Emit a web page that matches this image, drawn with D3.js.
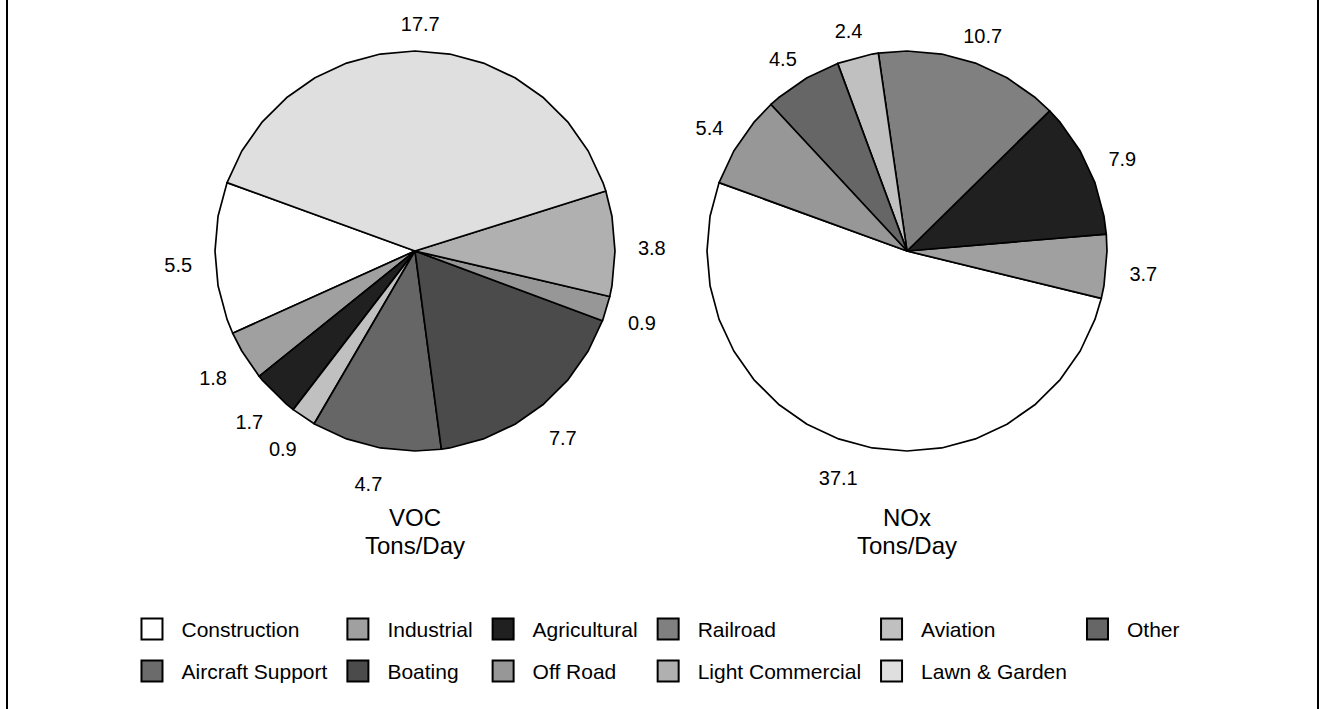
<!DOCTYPE html>
<html>
<head>
<meta charset="utf-8">
<script src="https://cdn.jsdelivr.net/npm/d3@7"></script>
<style>
  html, body { margin: 0; padding: 0; background: #fff; }
  svg { display: block; font-family: "Liberation Sans", Arial, sans-serif; }
</style>
</head>
<body>
<svg id="chart" width="1319" height="709"></svg>
<script>
// Emission source categories, in slice / legend order
const categories = [
  "Construction", "Industrial", "Agricultural", "Railroad", "Aviation", "Other",
  "Aircraft Support", "Boating", "Off Road", "Light Commercial", "Lawn & Garden"
];
// Tons per day for each category
const vocValues = [5.5, 1.8, 1.7, 0, 0.9, 4.7, 0, 7.7, 0.9, 3.8, 17.7];
const noxValues = [37.1, 3.7, 7.9, 10.7, 2.4, 4.5, 0, 0, 5.4, 0, 0];
// Chart titles
const pieTitles = [["VOC", "Tons/Day"], ["NOx", "Tons/Day"]];

// Grey fill for each category
const fillColors = [
  "#ffffff", "#a0a0a0", "#202020", "#808080", "#c0c0c0", "#666666",
  "#6b6b6b", "#4b4b4b", "#979797", "#b0b0b0", "#dfdfdf"
];

const W = 1319, H = 709;
const svg = d3.select("#chart");

// outer frame
svg.append("rect")
  .attr("x", 7).attr("y", -10)
  .attr("width", 1311).attr("height", H + 20)
  .attr("fill", "none").attr("stroke", "#000").attr("stroke-width", 2);

const color = d3.scaleOrdinal().domain(categories).range(fillColors);
const fmt = d3.format(".1f");

const radius = 200;
const startA = -70 * Math.PI / 180;
// slices run counter-clockwise from the start angle
const pie = d3.pie()
  .sort(null)
  .value(d => d.value)
  .startAngle(startA)
  .endAngle(startA - 2 * Math.PI);

// slice outline drawn as a faceted polygon
const step = 10 * Math.PI / 180;
const radial = d3.lineRadial()
  .angle(p => p[0])
  .radius(p => p[1])
  .curve(d3.curveLinearClosed);

function slicePath(d) {
  const lo = Math.min(d.startAngle, d.endAngle);
  const hi = Math.max(d.startAngle, d.endAngle);
  const pts = [[0, 0], [lo, radius]];
  for (let k = Math.ceil(lo / step); k * step < hi; k++) {
    if (k * step > lo + 1e-6) pts.push([k * step, radius]);
  }
  pts.push([hi, radius]);
  return radial(pts);
}

const pies = [
  { values: vocValues, cx: 415, cy: 251, title: pieTitles[0] },
  { values: noxValues, cx: 907, cy: 251, title: pieTitles[1] }
];

pies.forEach(p => {
  const data = categories.map((c, i) => ({ category: c, value: p.values[i] }));
  const arcs = pie(data).filter(d => d.value > 0);
  const g = svg.append("g").attr("transform", `translate(${p.cx},${p.cy})`);

  g.selectAll("path.slice")
    .data(arcs)
    .join("path")
    .attr("class", "slice")
    .attr("d", slicePath)
    .attr("fill", d => color(d.data.category))
    .attr("stroke", "#000")
    .attr("stroke-width", 1.7)
    .attr("stroke-linejoin", "round");

  g.selectAll("text.val")
    .data(arcs)
    .join("text")
    .attr("class", "val")
    .attr("x", d => 237 * Math.sin((d.startAngle + d.endAngle) / 2))
    .attr("y", d => 5 - 232 * Math.cos((d.startAngle + d.endAngle) / 2))
    .attr("dy", "0.36em")
    .attr("text-anchor", "middle")
    .attr("font-size", 20)
    .attr("fill", "#000")
    .text(d => fmt(d.value));

  const t = svg.append("text")
    .attr("text-anchor", "middle")
    .attr("font-size", 24)
    .attr("fill", "#000");
  p.title.forEach((line, i) => {
    t.append("tspan")
      .attr("x", p.cx)
      .attr("y", 526 + i * 28)
      .text(line);
  });
});

// legend: 6 columns, 2 rows, centered
const legendFont = 21, boxSize = 21, textOff = 40, colGap = 20;
const nCols = 6;
const rowY = [629, 671];
const legend = svg.append("g");
const items = legend.selectAll("g.item")
  .data(categories)
  .join("g")
  .attr("class", "item");
items.append("rect")
  .attr("width", boxSize).attr("height", boxSize)
  .attr("fill", d => color(d))
  .attr("stroke", "#000").attr("stroke-width", 2);
items.append("text")
  .attr("x", textOff)
  .attr("y", boxSize / 2)
  .attr("dy", "0.36em")
  .attr("font-size", legendFont)
  .attr("fill", "#000")
  .text(d => d);

const widths = [];
items.select("text").each(function(d, i) { widths[i] = this.getComputedTextLength(); });
const colW = d3.range(nCols).map(c =>
  textOff + d3.max(categories.map((_, i) => i).filter(i => i % nCols === c), i => widths[i]));
const total = d3.sum(colW) + colGap * (nCols - 1);
const colX = [];
let x0 = (W - total) / 2;
colW.forEach((w, c) => { colX[c] = x0; x0 += w + colGap; });

items.attr("transform", (d, i) =>
  `translate(${colX[i % nCols] + 1},${rowY[Math.floor(i / nCols)] - boxSize / 2})`);
</script>
</body>
</html>
